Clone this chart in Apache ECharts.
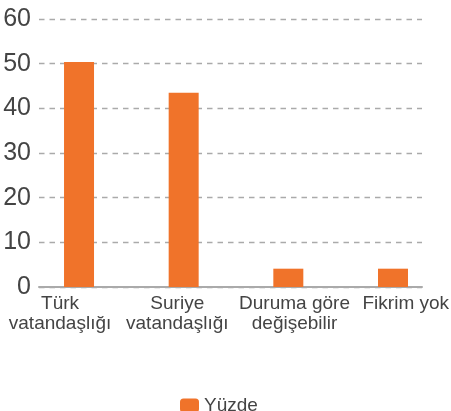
<!DOCTYPE html>
<meta charset="utf-8">
<style>
html, body { margin: 0; padding: 0; background: #fff; }
#main { width: 451px; height: 411px; }
</style>
<div id="main"></div>
<script src="https://cdn.jsdelivr.net/npm/echarts@6/dist/echarts.min.js"></script>
<script>

var categories = ['Türk\nvatandaşlığı', 'Suriye\nvatandaşlığı', 'Duruma göre\ndeğişebilir', 'Fikrim yok'];
var values = [50.4, 43.5, 4.1, 4.1];
var seriesName = 'Yüzde';

var font = 'Liberation Sans, Arial, sans-serif';
var textColor = '#444';

var chart = echarts.init(document.getElementById('main'));

// grid 0: y axis + dashed lines, grid 1: bars, grid 2: category labels
chart.setOption({
    animation: false,
    textStyle: { fontFamily: font },
    legend: {
        data: [seriesName],
        left: 175,
        top: 391,
        itemWidth: 19,
        itemHeight: 14,
        itemGap: 0,
        textStyle: { fontSize: 19, color: textColor }
    },
    grid: [
        { left: 39, right: 29, top: 19, bottom: 124, outerBoundsMode: 'none' },
        { left: 26.7, right: 5.7, top: 19, bottom: 124, outerBoundsMode: 'none' },
        { left: 1.4, width: 469, top: 19, bottom: 124, outerBoundsMode: 'none' }
    ],
    xAxis: [
        {
            gridIndex: 0,
            type: 'category',
            data: categories,
            axisLine: { show: true, lineStyle: { color: '#aaa', width: 2 } },
            axisTick: { show: false },
            axisLabel: { show: false }
        },
        {
            gridIndex: 1,
            type: 'category',
            data: categories,
            axisLine: { show: false },
            axisTick: { show: false },
            axisLabel: { show: false }
        },
        {
            gridIndex: 2,
            type: 'category',
            data: categories.map(function (c, i) {
                if (i === categories.length - 1) {
                    return { value: c, textStyle: { padding: [0, 12, 0, 0] } };
                }
                return c;
            }),
            axisLine: { show: false },
            axisTick: { show: false },
            axisLabel: {
                interval: 0,
                margin: 7,
                fontSize: 19,
                lineHeight: 20,
                color: textColor
            }
        }
    ],
    yAxis: [
        {
            gridIndex: 0,
            type: 'value',
            min: 0,
            max: 60,
            interval: 10,
            axisLine: { show: false },
            axisTick: { show: false },
            axisLabel: { fontSize: 25, color: textColor, margin: 8 },
            splitLine: { lineStyle: { color: '#aaa', type: [5.5, 5], width: 1.3 } }
        },
        { gridIndex: 1, type: 'value', min: 0, max: 60, show: false },
        { gridIndex: 2, type: 'value', min: 0, max: 60, show: false }
    ],
    series: [
        {
            name: seriesName,
            type: 'bar',
            xAxisIndex: 1,
            yAxisIndex: 1,
            barWidth: 30,
            itemStyle: { color: '#F0732A' },
            data: values
        }
    ]
});

</script>
